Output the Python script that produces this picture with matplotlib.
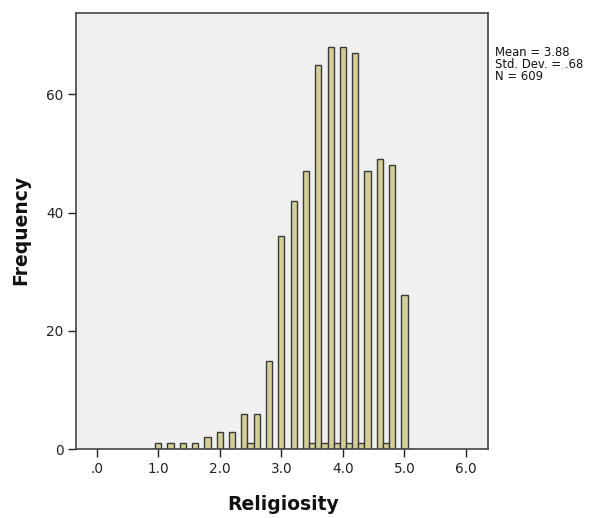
import matplotlib
matplotlib.use("Agg")
import matplotlib.pyplot as plt

# Religiosity scores (bin centres, bin width 0.1) and their frequencies
scores = [1.0, 1.2, 1.4, 1.6, 1.8, 2.0, 2.2, 2.4, 2.5, 2.6, 2.8, 3.0, 3.2, 3.4,
          3.5, 3.6, 3.7, 3.8, 3.9, 4.0, 4.1, 4.2, 4.3, 4.4, 4.6, 4.7, 4.8, 5.0]
counts = [1, 1, 1, 1, 2, 3, 3, 6, 1, 6, 15, 36, 42, 47,
          1, 65, 1, 68, 1, 68, 1, 67, 1, 47, 49, 1, 48, 26]

x_ticks = [0, 1, 2, 3, 4, 5, 6]
x_tick_labels = [".0", "1.0", "2.0", "3.0", "4.0", "5.0", "6.0"]
y_ticks = [0, 20, 40, 60]

stats_lines = ["Mean = 3.88", "Std. Dev. = .68", "N = 609"]

plt.rcParams["font.family"] = ["DejaVu Sans"]

fig = plt.figure(figsize=(6.03, 5.18), dpi=100)
ax = fig.add_axes([76 / 603, 1 - 449.3 / 518, (488 - 76) / 603, (449.3 - 13) / 518])
ax.set_facecolor("#F0F0F0")

ax.bar(scores, counts, width=0.1, align="center",
       color="#D3CE97", edgecolor="#3a3a3a", linewidth=1.0, zorder=2)

ax.set_xlim(-0.336, 6.357)
ax.set_ylim(0, 73.7)
ax.set_xticks(x_ticks)
ax.set_xticklabels(x_tick_labels)
ax.set_yticks(y_ticks)
ax.tick_params(direction="out", length=6, width=1.0, color="#222222",
               labelsize=9.8, labelcolor="#222222", pad=3)

for side in ["left", "right", "top", "bottom"]:
    ax.spines[side].set_color("#444444")
    ax.spines[side].set_linewidth(1.2)

fig.text(283 / 603, 1 - 505 / 518, "Religiosity", fontsize=13.5, fontweight="bold",
         ha="center", va="center", color="#111111")
fig.text(21 / 603, 1 - 230 / 518, "Frequency", fontsize=13.5, fontweight="bold",
         ha="center", va="center", rotation=90, color="#111111")

for i, line in enumerate(stats_lines):
    fig.text(495 / 603, 1 - (52 + 12 * i) / 518, line, fontsize=8.4,
             ha="left", va="center", color="#111111")

fig.savefig("out.png", dpi=100, facecolor="white")
